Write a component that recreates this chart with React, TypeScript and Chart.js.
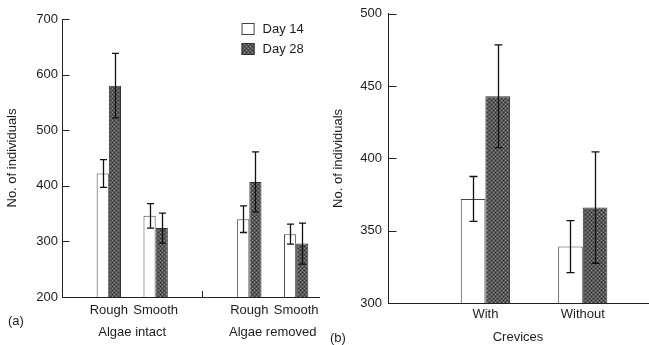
import React, { useEffect, useRef } from 'react';
import { Chart, registerables } from 'chart.js';

Chart.register(...registerables);

const seriesLabels = ['Day 14', 'Day 28'];
const yTitle = 'No. of individuals';

// Panel (a)
const leftCategories = ['Rough', 'Smooth', 'Rough', 'Smooth'];
const leftSlots = [1, 2, 4, 5];
const leftGroups = ['Algae intact', 'Algae removed'];
const leftGroupSlots = [1.5, 4.5];
const leftSeparatorSlot = 3;
const leftDay14 = [422, 346, 340, 313];
const leftDay14Err = [25, 22, 24, 18];
const leftDay28 = [580, 324, 407, 296];
const leftDay28Err = [58, 27, 54, 37];
const leftYTicks = [200, 300, 400, 500, 600, 700];

// Panel (b)
const rightCategories = ['With', 'Without'];
const rightSlots = [1, 2];
const rightXTitle = 'Crevices';
const rightDay14 = [372, 339];
const rightDay14Err = [15.5, 18];
const rightDay28 = [443, 366];
const rightDay28Err = [35.5, 38.5];
const rightYTicks = [300, 350, 400, 450, 500];

const FONT = "'Liberation Sans', Arial, sans-serif";
const TEXT = '#1c1c1c';
const AXIS = '#222';

function makePattern(): CanvasPattern | string {
  const c = document.createElement('canvas');
  c.width = 4;
  c.height = 4;
  const ctx = c.getContext('2d');
  if (!ctx) return '#5a5a5a';
  ctx.fillStyle = '#575757';
  ctx.fillRect(0, 0, 4, 4);
  ctx.fillStyle = '#8e8e8e';
  ctx.fillRect(0, 0, 1, 1);
  ctx.fillRect(2, 2, 1, 1);
  ctx.fillStyle = '#323232';
  ctx.fillRect(2, 0, 1, 1);
  ctx.fillRect(0, 2, 1, 1);
  const p = ctx.createPattern(c, 'repeat');
  return p || '#5a5a5a';
}

const errorBarPlugin = {
  id: 'errorBars',
  afterDatasetsDraw(chart: any, _args: any, opts: any) {
    const ctx = chart.ctx;
    const y = chart.scales.y;
    const cap = opts && opts.cap ? opts.cap : 3.5;
    chart.data.datasets.forEach((ds: any, i: number) => {
      const meta = chart.getDatasetMeta(i);
      meta.data.forEach((el: any, j: number) => {
        const v = ds.data[j].y;
        const e = ds.errors[j];
        const top = y.getPixelForValue(v + e);
        const bot = y.getPixelForValue(v - e);
        const x = Math.round(el.x) + 0.5;
        ctx.save();
        ctx.strokeStyle = '#111';
        ctx.lineWidth = 1.3;
        ctx.beginPath();
        ctx.moveTo(x, top);
        ctx.lineTo(x, bot);
        ctx.moveTo(x - cap, top);
        ctx.lineTo(x + cap, top);
        ctx.moveTo(x - cap, bot);
        ctx.lineTo(x + cap, bot);
        ctx.stroke();
        ctx.restore();
      });
    });
  },
};

const inwardTicksPlugin = {
  id: 'inwardTicks',
  afterDraw(chart: any, _args: any, opts: any) {
    const ctx = chart.ctx;
    const y = chart.scales.y;
    const len = opts && opts.length ? opts.length : 7;
    const x0 = Math.round(chart.chartArea.left) + 0.5;
    ctx.save();
    ctx.strokeStyle = AXIS;
    ctx.lineWidth = 1;
    ctx.beginPath();
    y.ticks.forEach((t: any) => {
      const py = Math.round(y.getPixelForValue(t.value)) + 0.5;
      ctx.moveTo(x0, py);
      ctx.lineTo(x0 + len, py);
    });
    ctx.stroke();
    ctx.restore();
  },
};

function makeLeftExtras(pattern: CanvasPattern | string) {
  return {
    id: 'leftExtras',
    afterDraw(chart: any) {
      const ctx = chart.ctx;
      const area = chart.chartArea;
      const xs = chart.scales.x;
      ctx.save();
      // separator tick
      const sx = Math.round(xs.getPixelForValue(leftSeparatorSlot)) + 0.5;
      ctx.strokeStyle = AXIS;
      ctx.lineWidth = 1;
      ctx.beginPath();
      ctx.moveTo(sx, area.bottom);
      ctx.lineTo(sx, area.bottom - 6);
      ctx.stroke();
      // group labels
      ctx.fillStyle = TEXT;
      ctx.font = `13px ${FONT}`;
      ctx.textAlign = 'center';
      ctx.textBaseline = 'middle';
      leftGroups.forEach((g, i) => {
        ctx.fillText(g, xs.getPixelForValue(leftGroupSlots[i]), area.bottom + 35);
      });
      // legend
      const bx = area.right - 78;
      const fills = ['#ffffff', pattern];
      const strokes = ['#444', '#333'];
      seriesLabels.forEach((lab, i) => {
        const by = area.top + 4 + i * 20;
        ctx.fillStyle = fills[i] as any;
        ctx.fillRect(bx, by, 13, 12);
        ctx.strokeStyle = strokes[i];
        ctx.lineWidth = 1;
        ctx.strokeRect(bx + 0.5, by + 0.5, 12, 11);
        ctx.fillStyle = TEXT;
        ctx.textAlign = 'left';
        ctx.fillText(lab, bx + 21, by + 6.5);
      });
      ctx.restore();
    },
  };
}

function buildConfig(opts: {
  slots: number[];
  cats: string[];
  d14: number[];
  e14: number[];
  d28: number[];
  e28: number[];
  yTicks: number[];
  xMax: number;
  pattern: CanvasPattern | string;
  catPct: number;
  yWidth: number;
  xHeight: number;
  padding: any;
  tickLen: number;
  tickPad: number;
  xPad: number;
  titlePad: number;
  cap: number;
  xTitle?: string;
  extraPlugins: any[];
}) {
  const font = { family: FONT, size: 13 };
  return {
    type: 'bar',
    data: {
      datasets: [
        {
          label: seriesLabels[0],
          data: opts.slots.map((x, i) => ({ x, y: opts.d14[i] })),
          errors: opts.e14,
          backgroundColor: '#ffffff',
          borderColor: '#444',
          borderWidth: 1,
        },
        {
          label: seriesLabels[1],
          data: opts.slots.map((x, i) => ({ x, y: opts.d28[i] })),
          errors: opts.e28,
          backgroundColor: opts.pattern,
          borderColor: '#333',
          borderWidth: 1,
        },
      ],
    },
    options: {
      responsive: false,
      animation: false,
      devicePixelRatio: 1,
      layout: { padding: opts.padding },
      datasets: { bar: { categoryPercentage: opts.catPct, barPercentage: 1 } },
      plugins: {
        legend: { display: false },
        tooltip: { enabled: false },
        errorBars: { cap: opts.cap },
        inwardTicks: { length: opts.tickLen },
      },
      scales: {
        x: {
          type: 'linear',
          min: 0,
          max: opts.xMax,
          offset: false,
          afterBuildTicks: (s: any) => {
            s.ticks = opts.slots.map((v) => ({ value: v }));
          },
          afterFit: (s: any) => {
            s.height = opts.xHeight;
          },
          ticks: {
            autoSkip: false,
            maxRotation: 0,
            padding: opts.xPad,
            font,
            color: TEXT,
            callback: (_v: any, i: number) => opts.cats[i],
          },
          grid: { display: false, drawTicks: false },
          border: { display: true, color: AXIS, width: 1 },
          title: opts.xTitle
            ? {
                display: true,
                text: opts.xTitle,
                font: { family: FONT, size: 13, lineHeight: 1.2 },
                color: TEXT,
                padding: { top: 0, bottom: 0 },
              }
            : { display: false },
        },
        y: {
          type: 'linear',
          min: opts.yTicks[0],
          max: opts.yTicks[opts.yTicks.length - 1],
          afterBuildTicks: (s: any) => {
            s.ticks = opts.yTicks.map((v) => ({ value: v }));
          },
          afterFit: (s: any) => {
            s.width = opts.yWidth;
          },
          ticks: { padding: opts.tickPad, font, color: TEXT },
          grid: { display: false, drawTicks: false },
          border: { display: true, color: AXIS, width: 1 },
          title: {
            display: true,
            text: yTitle,
            font: { family: FONT, size: 13, lineHeight: 1.2 },
            color: TEXT,
            padding: { top: opts.titlePad, bottom: 0 },
          },
        },
      },
    },
    plugins: [errorBarPlugin, inwardTicksPlugin, ...opts.extraPlugins],
  };
}

export default function App() {
  const leftRef = useRef<HTMLCanvasElement>(null);
  const rightRef = useRef<HTMLCanvasElement>(null);

  useEffect(() => {
    if (!leftRef.current || !rightRef.current) return;
    const pattern = makePattern();
    const left = new Chart(
      leftRef.current,
      buildConfig({
        slots: leftSlots,
        cats: leftCategories,
        d14: leftDay14,
        e14: leftDay14Err,
        d28: leftDay28,
        e28: leftDay28Err,
        yTicks: leftYTicks,
        xMax: 5.5,
        pattern,
        catPct: 0.52,
        yWidth: 62,
        xHeight: 48,
        padding: { left: 0, right: 5, top: 19, bottom: 0 },
        tickLen: 7,
        tickPad: 4,
        xPad: 6,
        titlePad: 5,
        cap: 3.5,
        extraPlugins: [makeLeftExtras(pattern)],
      }) as any
    );
    const right = new Chart(
      rightRef.current,
      buildConfig({
        slots: rightSlots,
        cats: rightCategories,
        d14: rightDay14,
        e14: rightDay14Err,
        d28: rightDay28,
        e28: rightDay28Err,
        yTicks: rightYTicks,
        xMax: 2.67,
        pattern,
        catPct: 0.505,
        yWidth: 63,
        xHeight: 42,
        padding: { left: 0, right: 1, top: 11, bottom: 0 },
        tickLen: 8,
        tickPad: 6,
        xPad: 4,
        titlePad: 6,
        cap: 4,
        xTitle: rightXTitle,
        extraPlugins: [],
      }) as any
    );
    return () => {
      left.destroy();
      right.destroy();
    };
  }, []);

  const labelStyle: React.CSSProperties = {
    position: 'absolute',
    fontFamily: FONT,
    fontSize: 13,
    lineHeight: '15px',
    color: TEXT,
  };

  return (
    <div style={{ position: 'absolute', left: 0, top: 0, width: 649, height: 345, background: '#fff', overflow: 'hidden' }}>
      <canvas ref={leftRef} width={325} height={345} style={{ position: 'absolute', left: 0, top: 0, width: 325, height: 345 }} />
      <canvas ref={rightRef} width={324} height={345} style={{ position: 'absolute', left: 325, top: 0, width: 324, height: 345 }} />
      <span style={{ ...labelStyle, left: 8, top: 313 }}>(a)</span>
      <span style={{ ...labelStyle, left: 330, top: 330 }}>(b)</span>
    </div>
  );
}
